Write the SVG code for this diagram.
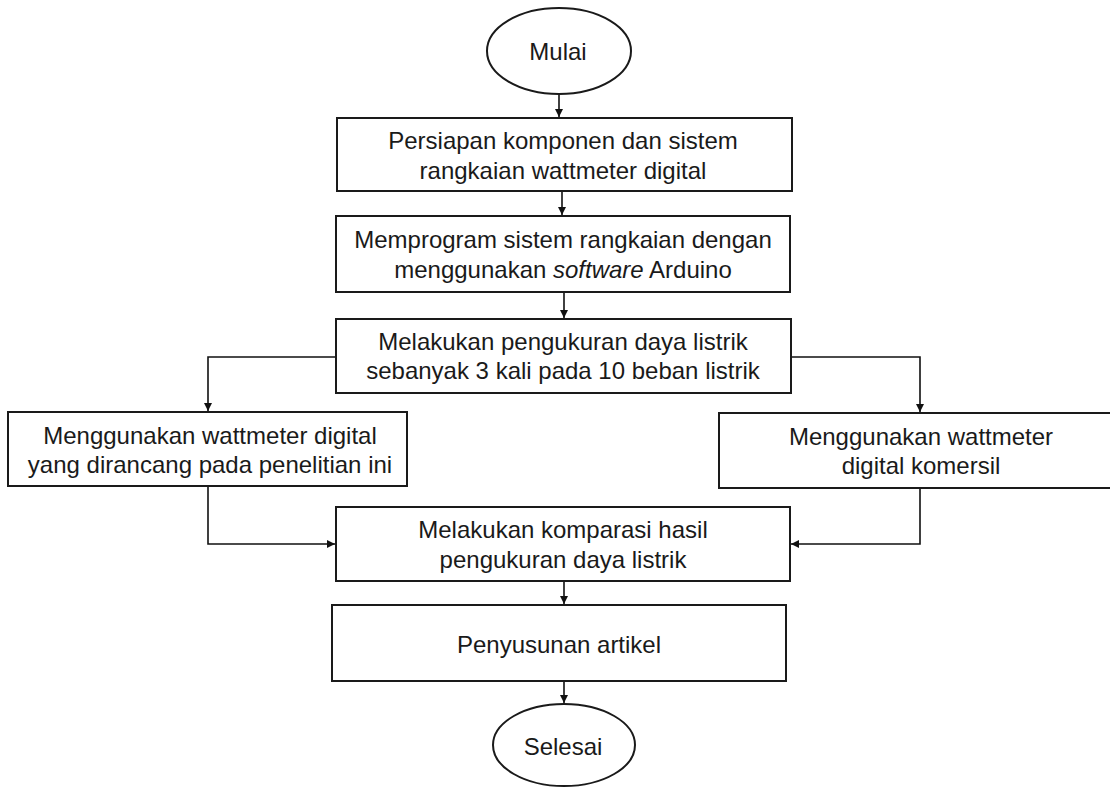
<svg xmlns="http://www.w3.org/2000/svg" width="1110" height="787" viewBox="0 0 1110 787">
<defs>
<style>
.box{fill:#fff;stroke:#1a1a1a;stroke-width:2}
.t{font-family:"Liberation Sans",Arial,sans-serif;font-size:24px;fill:#1a1a1a;text-anchor:middle}
.c{fill:none;stroke:#111;stroke-width:1.6}
</style>
<marker id="ah" viewBox="0 0 10 10" refX="10" refY="5" markerWidth="8" markerHeight="8" markerUnits="userSpaceOnUse" orient="auto">
<path d="M0,0 L10,5 L0,10 z" fill="#111"/>
</marker>
</defs>
<rect width="1110" height="787" fill="#fff"/>
<g id="connectors">
<path class="c" d="M559,94 V117" marker-end="url(#ah)"/>
<path class="c" d="M562,192 V215" marker-end="url(#ah)"/>
<path class="c" d="M564,293 V318" marker-end="url(#ah)"/>
<path class="c" d="M336,357 H208 V411" marker-end="url(#ah)"/>
<path class="c" d="M791,357 H920 V412" marker-end="url(#ah)"/>
<path class="c" d="M208,487 V544 H335" marker-end="url(#ah)"/>
<path class="c" d="M920,489 V544 H791" marker-end="url(#ah)"/>
<path class="c" d="M564,582 V604" marker-end="url(#ah)"/>
<path class="c" d="M564,682 V703" marker-end="url(#ah)"/>
</g>
<g id="start">
<ellipse class="box" cx="559" cy="51" rx="72" ry="43"/>
<text class="t" x="558" y="60">Mulai</text>
</g>
<g id="n1">
<rect class="box" x="337" y="118" width="455" height="73"/>
<text class="t" x="563" y="149">Persiapan komponen dan sistem</text>
<text class="t" x="563" y="179">rangkaian wattmeter digital</text>
</g>
<g id="n2">
<rect class="box" x="336" y="216" width="454" height="76"/>
<text class="t" x="563" y="248">Memprogram sistem rangkaian dengan</text>
<text class="t" x="563" y="278">menggunakan <tspan font-style="italic">software</tspan> Arduino</text>
</g>
<g id="n3">
<rect class="box" x="336" y="319" width="455" height="74"/>
<text class="t" x="563" y="350">Melakukan pengukuran daya listrik</text>
<text class="t" x="563" y="379">sebanyak 3 kali pada 10 beban listrik</text>
</g>
<g id="n4">
<rect class="box" x="8" y="412" width="399" height="74"/>
<text class="t" x="210" y="444">Menggunakan wattmeter digital</text>
<text class="t" x="210" y="473">yang dirancang pada penelitian ini</text>
</g>
<g id="n5">
<rect class="box" x="719" y="413" width="402" height="75"/>
<text class="t" x="921" y="445">Menggunakan wattmeter</text>
<text class="t" x="921" y="474">digital komersil</text>
</g>
<g id="n6">
<rect class="box" x="336" y="507" width="454" height="74"/>
<text class="t" x="563" y="538">Melakukan komparasi hasil</text>
<text class="t" x="563" y="568">pengukuran daya listrik</text>
</g>
<g id="n7">
<rect class="box" x="332" y="605" width="454" height="76"/>
<text class="t" x="559" y="653">Penyusunan artikel</text>
</g>
<g id="end">
<ellipse class="box" cx="564" cy="745" rx="71" ry="41"/>
<text class="t" x="563" y="755">Selesai</text>
</g>
</svg>
